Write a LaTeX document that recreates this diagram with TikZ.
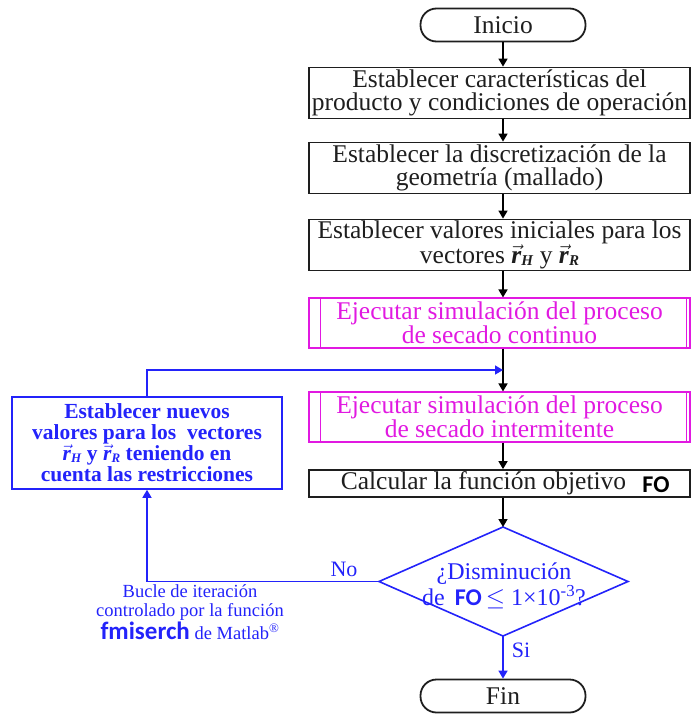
\documentclass[tikz,border=0pt]{standalone}
\usepackage{fontspec}
\setmainfont{Liberation Serif}
\newfontfamily\fosans{Carlito}
\usetikzlibrary{arrows.meta}
\definecolor{mag}{RGB}{225,25,225}
\definecolor{blu}{RGB}{35,35,250}
\definecolor{txt}{RGB}{30,30,30}
\newcommand\rvec[2]{$\vec{\textbf{\textit{r}}}$\raisebox{-0.08em}{\fontsize{#2}{#2}\selectfont\textbf{\textit{#1}}}}
\begin{document}
\begin{tikzpicture}[x=1pt,y=-1pt,
  box/.style={draw=txt, line width=1.8pt,
    minimum width=381pt, minimum height=51pt, inner sep=0pt, align=center,
    text=txt, font=\fontsize{25.5}{22.5}\selectfont},
  mbox/.style={draw=mag, line width=1.1pt, minimum width=381pt, minimum height=50pt,
    inner sep=0pt, align=center, text=mag, font=\fontsize{25.5}{22.5}\selectfont},
  term/.style={draw=txt, line width=1.8pt,
    rounded corners=16pt, minimum width=165pt, minimum height=33pt, inner sep=0pt,
    text=txt, font=\fontsize{25.5}{21}\selectfont},
  lbox/.style={draw=blu, line width=1.6pt, minimum width=270pt, minimum height=92pt,
    inner sep=0pt, align=center, text=blu, font=\bfseries\fontsize{21.5}{21}\selectfont},
  arr/.style={draw=black, line width=1.6pt, -{Triangle[length=8pt,width=9pt]}},
  barr/.style={draw=blu, line width=1.6pt, -{Triangle[length=8pt,width=9pt]}},
  bline/.style={draw=blu, line width=1.6pt},
  lbl/.style={text=blu, inner sep=0pt, font=\fontsize{22}{20}\selectfont}
]
\useasboundingbox (0,0) rectangle (691,714);

\node[term] (ini) at (503,25) {Inicio};
\node[box] (b1) at (499.5,93) {Establecer características del\\producto y condiciones de operación};
\node[box] (b2) at (499.5,168) {Establecer la discretización de la\\geometría (mallado)};
\node[box] (b3) at (499.5,245) {Establecer valores iniciales para los\\vectores \rvec{H}{15} y \rvec{R}{15}};
\node[mbox] (b4) at (499.5,323) {Ejecutar simulación del proceso\\de secado continuo};
\node[mbox] (b5) at (499.5,417) {Ejecutar simulación del proceso\\de secado intermitente};
\node[box, minimum height=27pt] (b6) at (499.5,483.5) {Calcular la función objetivo\hspace{32pt}};
\node[inner sep=0pt, font=\fosans\bfseries\fontsize{24}{24}\selectfont] (fo) at (656,485) {FO};
\node[term] (fin) at (503,696) {Fin};

\foreach \b in {b4,b5}{
  \draw[mag, line width=1.1pt] ([xshift=12pt]\b.north west) -- ([xshift=12pt]\b.south west);
  \draw[mag, line width=1.1pt] ([xshift=-4pt]\b.north east) -- ([xshift=-4pt]\b.south east);
}

% decision
\coordinate (dt) at (503,527);
\coordinate (dr) at (628,581.5);
\coordinate (db) at (503,636);
\coordinate (dl) at (379,581.5);
\draw[blu, line width=1.6pt, line join=miter] (dt) -- (dr) -- (db) -- (dl) -- cycle;
\node[align=center, text=blu, inner sep=0pt, font=\fontsize{24}{24}\selectfont] (dq) at (504,586)
  {¿Disminución\\de \,{\fosans\bfseries FO}\,$\leq$ 1×10\textsuperscript{-3}?};

% left box
\node[lbox] (nb) at (147,443) {Establecer nuevos\\valores para los~ vectores\\\rvec{H}{13} y \rvec{R}{13} teniendo en\\cuenta las restricciones};

\coordinate (j) at (503,370);

% main arrows
\draw[arr] (ini.south) -- (ini.south |- b1.north);
\draw[arr] (ini.south |- b1.south) -- (ini.south |- b2.north);
\draw[arr] (ini.south |- b2.south) -- (ini.south |- b3.north);
\draw[arr] (ini.south |- b3.south) -- (ini.south |- b4.north);
\draw[arr] (ini.south |- b4.south) -- (ini.south |- b5.north);
\draw[arr] (ini.south |- b5.south) -- (ini.south |- b6.north);
\draw[arr] (ini.south |- b6.south) -- (dt);
\draw[barr] (db) -- (fin.north);

% loop
\draw[bline] (dl) -- (nb.south |- dl);
\draw[barr] (nb.south |- dl) -- (nb.south);
\draw[barr] (nb.north) |- (j);

\node[lbl] (no) at (344,569) {No};
\node[lbl] (si) at (521,650) {Si};
\node[align=center, text=blu, inner sep=0pt, font=\fontsize{18.5}{19}\selectfont] (bucle) at (190,612)
  {Bucle de iteración\\controlado por la función\\{\fosans\bfseries\fontsize{25}{19}\selectfont fmiserch} de Matlab\textsuperscript{®}};
\end{tikzpicture}
\end{document}
